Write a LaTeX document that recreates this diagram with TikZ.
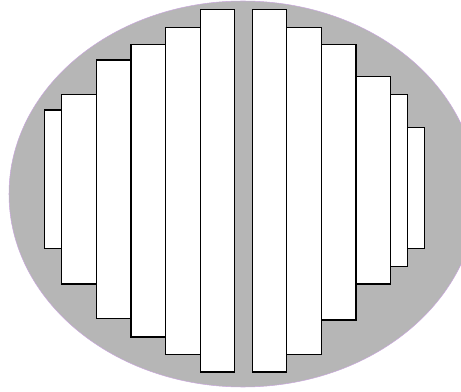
\documentclass[tikz,border=0pt]{standalone}
\usepackage{tikz}
\definecolor{shellgray}{HTML}{B6B6B6}
\definecolor{rimpurple}{HTML}{C9A8DC}
\tikzset{
    shell/.style = {
        fill = shellgray,
        draw = rimpurple,
        line width = 0.3pt
    },
    slat/.style = {
        fill = white,
        draw = black,
        line width = 0.7pt
    }
}

\begin{document}
\begin{tikzpicture}[x=0.02cm, y=-0.02cm]
        \useasboundingbox (0,0) rectangle (461,392);
        \clip (0,0) rectangle (461,392);
%outer shell
        \path[shell] (243,194) ellipse [x radius=234, y radius=193];
%left slats
        \foreach \xa/\xb/\yt/\yb in {44.3/61.7/110/248.3, 61.7/96.7/94.3/284,
                96.7/131/60/318.3, 131/165.7/44.3/337,
                165.7/200.3/27.3/354.7, 200.3/234.3/9.7/372}
            \draw[slat] (\xa,\yt) rectangle (\xb,\yb);
%right slats
        \foreach \xa/\xb/\yt/\yb in {252.3/286.7/9.7/372, 286.7/321.3/27.3/354.7,
                321.3/356/44.3/320, 356/390.7/76.7/284,
                390.7/407.7/94.3/266.7, 407.7/424.7/127.7/248.3}
            \draw[slat] (\xa,\yt) rectangle (\xb,\yb);
\end{tikzpicture}
\end{document}
